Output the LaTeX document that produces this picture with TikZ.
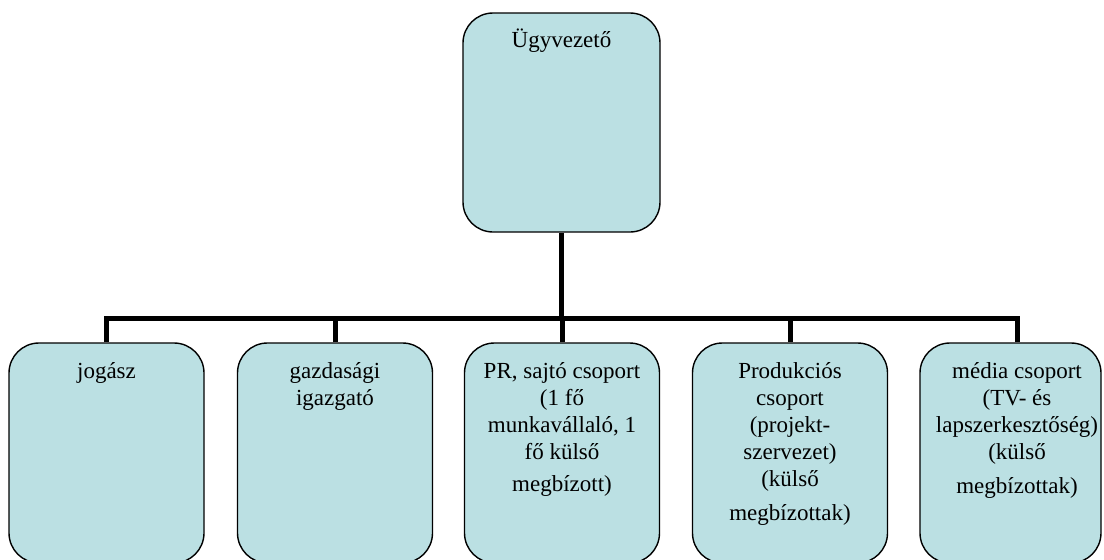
\documentclass[tikz,border=0pt]{standalone}
\usepackage{fontspec}
\setmainfont{Liberation Serif}
\definecolor{boxfill}{HTML}{BBE0E3}
\begin{document}
\begin{tikzpicture}[x=1pt,y=-1pt,
  box/.style={draw=black, line width=1.4pt, fill=boxfill, rounded corners=30pt, inner sep=0pt},
  lowbox/.style={box, minimum width=195pt, minimum height=220pt},
  conn/.style={line width=5pt, line join=miter},
  txt/.style={anchor=north, align=center, inner sep=0pt, font=\fontsize{23}{27}\selectfont}]
\useasboundingbox (0,0) rectangle (1104,560);
\clip (0,0) rectangle (1104,560);
\node[box, minimum width=197pt, minimum height=219pt] (top) at (561.5,122.5) {};
\node[lowbox] (b1) at (106.5,453) {};
\node[lowbox] (b2) at (335,453) {};
\node[lowbox] (b3) at (562,453) {};
\node[lowbox] (b4) at (790,453) {};
\node[lowbox, minimum width=181pt] (b5) at (1010.5,453) {};
\coordinate (j) at (561.5,318);
\coordinate (b5n) at ([xshift=6.5pt]b5.north);
\draw[conn] (top.south) -- (j);
\foreach \b in {b1.north,b2.north,b3.north,b4.north,b5n} \draw[conn] (\b) |- (j);
\node[txt] (t0) at ([yshift=-16pt]top.north) {Ügyvezető};
\node[txt] (t1) at ([yshift=-20pt]b1.north) {jogász};
\node[txt] (t2) at ([yshift=-20pt]b2.north) {gazdasági\\igazgató};
\node[txt] (t3) at ([yshift=-20pt]b3.north) {PR, sajtó csoport\\(1 fő\\munkavállaló,  1\\fő külső\\[5pt]megbízott)};
\node[txt] (t4) at ([yshift=-20pt]b4.north) {Produkciós\\csoport\\(projekt-\\szervezet)\\(külső\\[7pt]megbízottak)};
\node[txt] (t5) at ([yshift=-20pt]b5n) {média csoport\\(TV- és\\lapszerkesztőség)\\(külső\\[7pt]megbízottak)};
\end{tikzpicture}
\end{document}
